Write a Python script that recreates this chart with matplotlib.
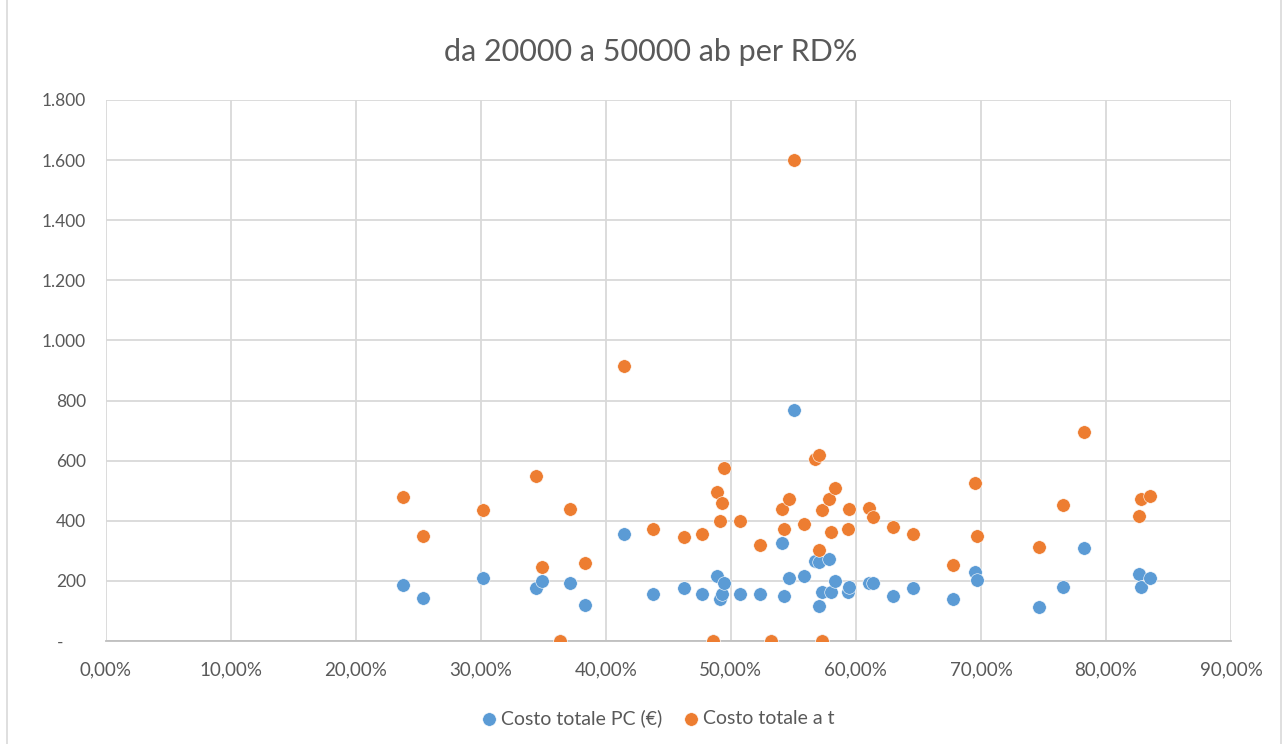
import matplotlib.pyplot as plt
from matplotlib.ticker import FuncFormatter, MultipleLocator
from matplotlib.patches import Rectangle

plt.rcParams['font.family'] = ['Lato', 'DejaVu Sans']

# RD% (in percentuale) e costi
rd_perc = [23.78, 25.41, 30.22, 34.43, 34.88, 37.17, 38.37, 36.32, 41.43, 43.75,
           46.22, 47.69, 48.57, 48.89, 49.13, 49.31, 49.45, 50.75, 52.35, 53.23,
           54.13, 54.24, 54.69, 55.09, 55.84, 56.72, 57.04, 57.04, 57.30, 57.28,
           57.88, 58.04, 58.31, 59.35, 59.48, 61.05, 61.40, 63.00, 64.59, 67.76,
           69.55, 69.71, 74.63, 76.55, 78.28, 82.64, 82.78, 83.50]
costo_pc = [186, 144, 211, 175, 200, 193, 120, 0, 356, 156,
            175, 156, 0, 217, 139, 156, 193, 156, 156, 0,
            326, 150, 211, 769, 217, 267, 115, 262, 0, 162,
            272, 162, 200, 162, 181, 193, 193, 150, 175, 139,
            230, 204, 113, 181, 308, 224, 181, 211]
costo_t = [478, 350, 435, 550, 247, 440, 260, 0, 914, 374,
           345, 357, 0, 496, 399, 459, 576, 399, 320, 0,
           440, 374, 471, 1600, 388, 605, 618, 302, 0, 436,
           471, 362, 508, 374, 440, 443, 411, 380, 357, 254,
           527, 350, 314, 453, 696, 417, 471, 484]

blu = '#5B9BD5'
arancio = '#ED7D31'
grigio = '#595959'

fig = plt.figure(figsize=(12.83, 7.44), dpi=100)
ax = fig.add_axes([0.0823, 0.1384, 0.8772, 0.7272])

ax.scatter(rd_perc, costo_pc, s=95, color=blu, edgecolors='white', linewidths=0.4,
           label='Costo totale PC (€)', zorder=3)
ax.scatter(rd_perc, costo_t, s=95, color=arancio, edgecolors='white', linewidths=0.4,
           label='Costo totale a t', zorder=4)

ax.set_xlim(0, 90)
ax.set_ylim(0, 1800)
ax.xaxis.set_major_locator(MultipleLocator(10))
ax.yaxis.set_major_locator(MultipleLocator(200))


def fmt_x(v, pos):
    return ('%.2f%%' % v).replace('.', ',')


def fmt_y(v, pos):
    if v == 0:
        return '-     '
    return ('{:,.0f}'.format(v)).replace(',', '.')


ax.xaxis.set_major_formatter(FuncFormatter(fmt_x))
ax.yaxis.set_major_formatter(FuncFormatter(fmt_y))

ax.grid(True, color='#D9D9D9', linewidth=1.3, zorder=0)
ax.set_axisbelow(True)
for lato in ['left', 'right', 'top']:
    ax.spines[lato].set_visible(False)
ax.spines['bottom'].set_color('#BFBFBF')
ax.spines['bottom'].set_linewidth(1.3)
ax.tick_params(axis='both', length=0, colors=grigio)
ax.tick_params(axis='x', pad=15, labelsize=13.5)
ax.tick_params(axis='y', pad=14, labelsize=12.5)

fig.text(0.5075, 0.93, 'da 20000 a 50000 ab per RD%', ha='center', va='center',
         fontsize=22, color=grigio)

fig.legend(loc='center', bbox_to_anchor=(0.512, 0.035), ncol=2, frameon=False,
           fontsize=14, labelcolor=grigio, handletextpad=0.1, columnspacing=1.0,
           handlelength=1.0, markerscale=1.0)

# bordo dell'area del grafico
fig.patches.append(Rectangle((0.0055, -0.01), 0.993, 1.02, transform=fig.transFigure,
                             fill=False, edgecolor='#D9D9D9', linewidth=1.2))

plt.savefig('out.png', dpi=100)
